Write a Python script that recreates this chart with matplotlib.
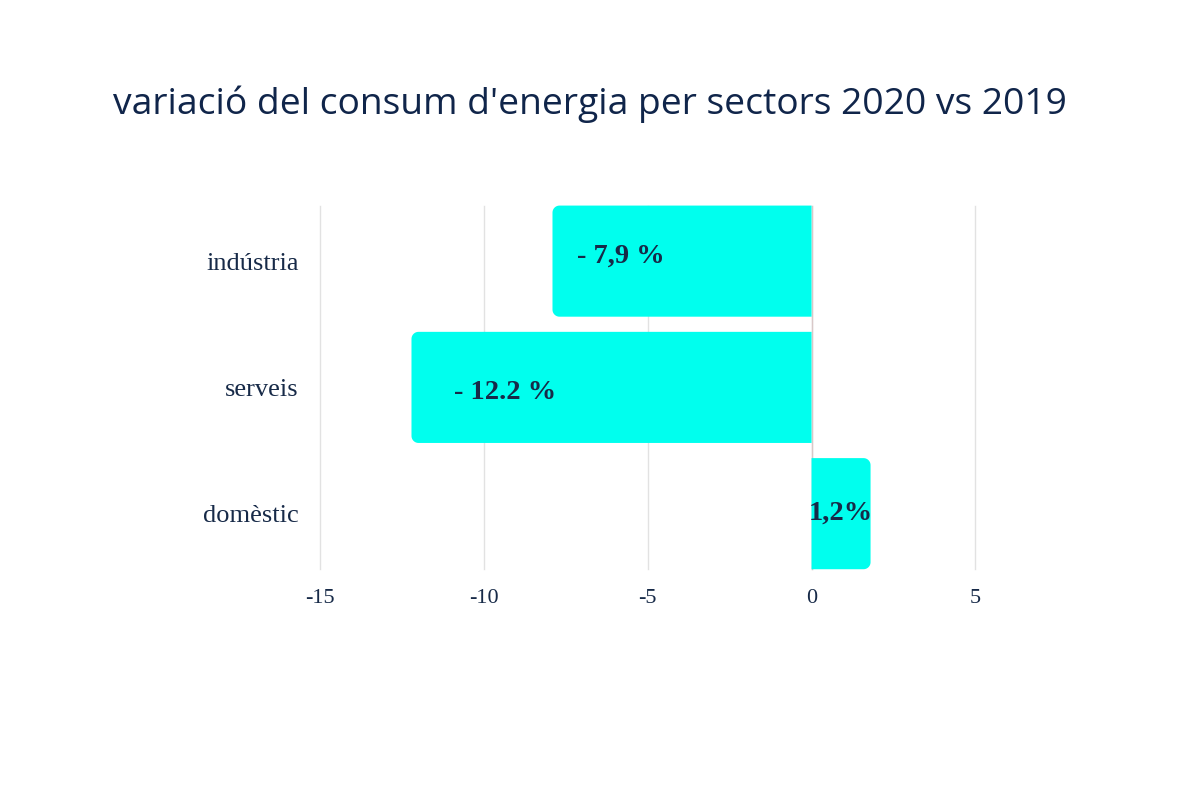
import matplotlib
matplotlib.use("Agg")
import matplotlib.pyplot as plt
import numpy as np
from matplotlib.patches import Polygon

# Data
sectors = ["indústria", "serveis", "domèstic"]
values = [-7.9, -12.2, 1.8]
labels = ["- 7,9 %", "- 12.2 %", "1,2%"]
label_x = [-7.15, -10.9, 0.9]
label_dy = [-0.04, 0.04, 0.0]
ticks = [-15, -10, -5, 0, 5]

bar_color = "#00FFEE"
text_color = "#172a48"
serif = "Liberation Serif"

fig = plt.figure(figsize=(12, 8), dpi=100)
ax = fig.add_axes([0.25, 0.279, 0.658, 0.4735])

ypos = list(range(len(sectors)))
bars = ax.barh(ypos, values, height=0.88, color=bar_color, zorder=2)

# rounded corners on the outer end only (like plotly barcornerradius)
px_x = 32.8   # pixels per x unit
px_y = 126.0  # pixels per y unit
rpx = 7.0
rx, ry = rpx / px_x, rpx / px_y
t = np.linspace(0, np.pi / 2, 12)
for b in bars:
    b.set_visible(False)
    x0, y0, w, h = b.get_x(), b.get_y(), b.get_width(), b.get_height()
    base = x0
    end = x0 + w
    s = 1 if w >= 0 else -1
    cx = end - s * rx
    top_c = y0 + ry
    bot_c = y0 + h - ry
    arc1 = [(cx + s * rx * np.sin(a), top_c - ry * np.cos(a)) for a in t]
    arc2 = [(cx + s * rx * np.cos(a), bot_c + ry * np.sin(a)) for a in t]
    pts = [(base, y0)] + arc1 + arc2 + [(base, y0 + h)]
    ax.add_patch(Polygon(pts, closed=True, facecolor=bar_color,
                         edgecolor="none", zorder=2))

for y, lab, lx, dy in zip(ypos, labels, label_x, label_dy):
    ha = "center" if lab == "1,2%" else "left"
    ax.text(lx, y + dy, lab, ha=ha, va="center", fontsize=20.5,
            fontweight="bold", family=serif, color=text_color, zorder=3)

ax.set_xlim(-15.6, 8.48)
ax.set_ylim(2.5, -0.5)
ax.set_xticks(ticks)
ax.set_xticklabels([str(t) for t in ticks], family=serif, fontsize=16,
                   color=text_color)
ax.set_yticks(ypos)
ax.set_yticklabels(sectors, family=serif, fontsize=19, color=text_color)
ax.tick_params(axis="y", length=0, pad=1)
ax.tick_params(axis="x", length=0, pad=9)
for tk in ticks:
    ax.plot([tk, tk], [-0.44, 2.44], color="#e2e2e2", linewidth=1, zorder=0)
ax.plot([0, 0], [-0.44, 2.44], color="#d9c8c8", linewidth=1, zorder=1)
for s in ax.spines.values():
    s.set_visible(False)

fig.text(0.0942, 0.87, "variació del consum d'energia per sectors 2020 vs 2019",
         family="Open Sans", fontsize=26.8, color="#10254a", ha="left", va="center")

fig.savefig("out.png", dpi=100, facecolor="white")
